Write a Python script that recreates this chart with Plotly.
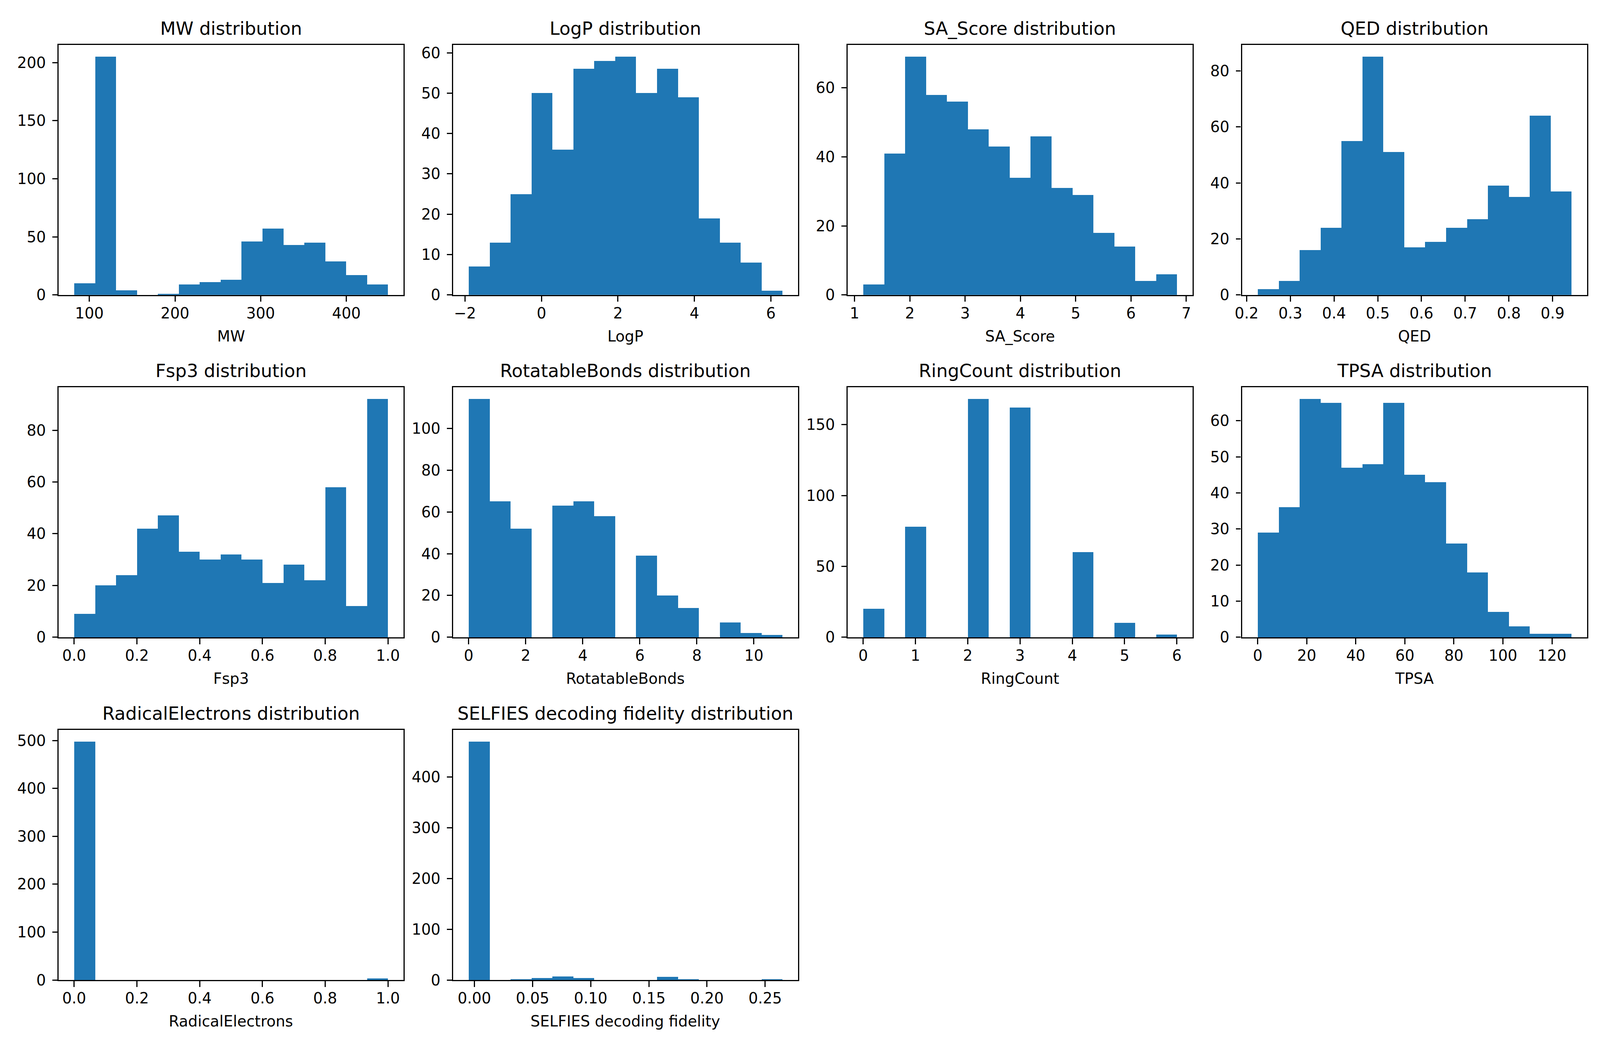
import plotly.graph_objects as go

# ---------------- data ----------------
names = ["MW", "LogP", "SA_Score", "QED", "Fsp3", "RotatableBonds",
         "RingCount", "TPSA", "RadicalElectrons", "SELFIES decoding fidelity"]

# data min / max of each variable (histogram range), 15 bins each
mw_range = [82.3, 448.5]
mw_counts = [10, 205, 4, 0, 1, 9, 11, 13, 46, 57, 43, 45, 29, 17, 9]

logp_range = [-1.903, 6.30]
logp_counts = [7, 13, 25, 50, 36, 56, 58, 59, 50, 56, 49, 19, 13, 8, 1]

sa_range = [1.156, 6.830]
sa_counts = [3, 41, 69, 58, 56, 48, 43, 34, 46, 31, 29, 18, 14, 4, 6]

qed_range = [0.2252, 0.9430]
qed_counts = [2, 5, 16, 24, 55, 85, 51, 17, 19, 24, 27, 39, 35, 64, 37]

fsp3_range = [0.0, 1.0]
fsp3_counts = [9, 20, 24, 42, 47, 33, 30, 32, 30, 21, 28, 22, 58, 12, 92]

rotb_range = [0.0, 11.0]
rotb_counts = [114, 65, 52, 0, 63, 65, 58, 0, 39, 20, 14, 0, 7, 2, 1]

ring_range = [0.0, 6.0]
ring_counts = [20, 0, 78, 0, 0, 168, 0, 162, 0, 0, 60, 0, 10, 0, 2]

tpsa_range = [0.0, 127.9]
tpsa_counts = [29, 36, 66, 65, 47, 48, 65, 45, 43, 26, 18, 7, 3, 1, 1]

rad_range = [0.0, 1.0]
rad_counts = [497, 0, 0, 0, 0, 0, 0, 0, 0, 0, 0, 0, 0, 0, 3]

selfies_range = [-0.0049, 0.2648]
selfies_counts = [469, 0, 1, 4, 7, 4, 0, 0, 0, 6, 1, 0, 0, 0, 1]

# tick values / labels
mw_xticks = [100, 200, 300, 400]
mw_xlabels = ["100", "200", "300", "400"]
mw_yticks = [0, 50, 100, 150, 200]

logp_xticks = [-2, 0, 2, 4, 6]
logp_xlabels = ["\u22122", "0", "2", "4", "6"]
logp_yticks = [0, 10, 20, 30, 40, 50, 60]

sa_xticks = [1, 2, 3, 4, 5, 6, 7]
sa_xlabels = ["1", "2", "3", "4", "5", "6", "7"]
sa_yticks = [0, 20, 40, 60]

qed_xticks = [0.2, 0.3, 0.4, 0.5, 0.6, 0.7, 0.8, 0.9]
qed_xlabels = ["0.2", "0.3", "0.4", "0.5", "0.6", "0.7", "0.8", "0.9"]
qed_yticks = [0, 20, 40, 60, 80]

fsp3_xticks = [0.0, 0.2, 0.4, 0.6, 0.8, 1.0]
fsp3_xlabels = ["0.0", "0.2", "0.4", "0.6", "0.8", "1.0"]
fsp3_yticks = [0, 20, 40, 60, 80]

rotb_xticks = [0, 2, 4, 6, 8, 10]
rotb_xlabels = ["0", "2", "4", "6", "8", "10"]
rotb_yticks = [0, 20, 40, 60, 80, 100]

ring_xticks = [0, 1, 2, 3, 4, 5, 6]
ring_xlabels = ["0", "1", "2", "3", "4", "5", "6"]
ring_yticks = [0, 50, 100, 150]

tpsa_xticks = [0, 20, 40, 60, 80, 100, 120]
tpsa_xlabels = ["0", "20", "40", "60", "80", "100", "120"]
tpsa_yticks = [0, 10, 20, 30, 40, 50, 60]

rad_xticks = [0.0, 0.2, 0.4, 0.6, 0.8, 1.0]
rad_xlabels = ["0.0", "0.2", "0.4", "0.6", "0.8", "1.0"]
rad_yticks = [0, 100, 200, 300, 400, 500]

selfies_xticks = [0.0, 0.05, 0.10, 0.15, 0.20, 0.25]
selfies_xlabels = ["0.00", "0.05", "0.10", "0.15", "0.20", "0.25"]
selfies_yticks = [0, 100, 200, 300, 400]

panels = [
    (mw_range, mw_counts, mw_xticks, mw_xlabels, mw_yticks),
    (logp_range, logp_counts, logp_xticks, logp_xlabels, logp_yticks),
    (sa_range, sa_counts, sa_xticks, sa_xlabels, sa_yticks),
    (qed_range, qed_counts, qed_xticks, qed_xlabels, qed_yticks),
    (fsp3_range, fsp3_counts, fsp3_xticks, fsp3_xlabels, fsp3_yticks),
    (rotb_range, rotb_counts, rotb_xticks, rotb_xlabels, rotb_yticks),
    (ring_range, ring_counts, ring_xticks, ring_xlabels, ring_yticks),
    (tpsa_range, tpsa_counts, tpsa_xticks, tpsa_xlabels, tpsa_yticks),
    (rad_range, rad_counts, rad_xticks, rad_xlabels, rad_yticks),
    (selfies_range, selfies_counts, selfies_xticks, selfies_xlabels, selfies_yticks),
]

# ---------------- layout / style ----------------
W, H = 4800, 2700
BLUE = "#1f77b4"
FONT = "DejaVu Sans"
TICK_FS = 41.7
TITLE_FS = 50
LW = 3.33
TICKLEN = 14.6

col_left = [154, 1343, 2532, 3721]
col_w = 1040
row_top = [114, 998, 1883]
row_h = 645.5

fig = go.Figure()
annotations = []
layout = {}

for i, (rng, counts, xt, xl, yt) in enumerate(panels):
    r, c = divmod(i, 4)
    n = len(counts)
    lo, hi = rng
    w = (hi - lo) / n
    centers = [lo + (k + 0.5) * w for k in range(n)]
    ax = "" if i == 0 else str(i + 1)
    fig.add_trace(go.Bar(
        x=centers, y=counts, width=[w] * n,
        marker=dict(color=BLUE, line=dict(width=0)),
        xaxis="x" + ax, yaxis="y" + ax, showlegend=False,
        hoverinfo="x+y",
    ))
    x0 = col_left[c] / W
    x1 = (col_left[c] + col_w) / W
    y1 = 1 - row_top[r] / H
    y0 = 1 - (row_top[r] + row_h) / H
    span = hi - lo
    common = dict(
        showline=True, linewidth=LW, linecolor="black", mirror=True,
        ticks="outside", ticklen=TICKLEN, tickwidth=LW, tickcolor="black",
        showgrid=False, zeroline=False,
        tickfont=dict(family=FONT, size=TICK_FS, color="black"),
    )
    layout["xaxis" + ax] = dict(
        domain=[x0, x1], anchor="y" + ax,
        range=[lo - 0.05 * span, hi + 0.05 * span],
        tickmode="array", tickvals=xt, ticktext=xl,
        ticklabelstandoff=-4,
        **common,
    )
    layout["yaxis" + ax] = dict(
        domain=[y0, y1], anchor="x" + ax,
        range=[0, max(counts) * 1.05],
        tickmode="array", tickvals=yt, ticktext=[str(v) for v in yt],
        ticklabelstandoff=10,
        **common,
    )
    xc = (x0 + x1) / 2
    annotations.append(dict(
        text=names[i] + " distribution", x=xc, y=y1, xref="paper", yref="paper",
        xanchor="center", yanchor="bottom", yshift=13, showarrow=False,
        font=dict(family=FONT, size=TITLE_FS, color="black"),
    ))
    annotations.append(dict(
        text=names[i], x=xc, y=y0, xref="paper", yref="paper",
        xanchor="center", yanchor="top", yshift=-81, showarrow=False,
        font=dict(family=FONT, size=TICK_FS, color="black"),
    ))

fig.update_layout(
    width=W, height=H, autosize=False,
    margin=dict(l=0, r=0, t=0, b=0, pad=0),
    paper_bgcolor="white", plot_bgcolor="white",
    font=dict(family=FONT, size=TICK_FS, color="black"),
    annotations=annotations, bargap=0, showlegend=False,
    **layout,
)

# Fit the 4800x2700 design to the actual browser viewport
fit_js = """
(function(){
  document.documentElement.style.margin = '0';
  document.documentElement.style.overflow = 'hidden';
  document.body.style.margin = '0';
  document.body.style.overflow = 'hidden';
  var gd = document.getElementById('{plot_id}');
  var vw = window.innerWidth, vh = window.innerHeight;
  var kx = vw / 4800;
  if (!isFinite(kx) || kx <= 0) { return; }
  var ky = (isFinite(vh) && vh > 100) ? vh / 2700 : kx;
  if (Math.abs(kx - 1) < 0.002 && Math.abs(ky - 1) < 0.002) { return; }
  var kf = Math.sqrt(kx * ky);
  var newW = 4800 * kx, newH = 2700 * ky;
  gd.style.width = newW + 'px';
  gd.style.height = newH + 'px';
  if (gd.parentNode && gd.parentNode.style) {
    gd.parentNode.style.width = newW + 'px';
    gd.parentNode.style.height = newH + 'px';
    gd.parentNode.style.overflow = 'hidden';
  }
  var L = gd.layout, upd = {width: newW, height: newH};
  Object.keys(L).forEach(function(key){
    if (/^[xy]axis[0-9]*$/.test(key)) {
      var a = L[key];
      var kd = (key.charAt(0) === 'x') ? ky : kx;
      upd[key + '.tickfont.size'] = a.tickfont.size * kf;
      upd[key + '.linewidth'] = a.linewidth * kf;
      upd[key + '.tickwidth'] = a.tickwidth * kf;
      upd[key + '.ticklen'] = a.ticklen * kd;
      upd[key + '.ticklabelstandoff'] = Math.round((a.ticklabelstandoff || 0) * kd);
    }
  });
  (L.annotations || []).forEach(function(an, i){
    upd['annotations[' + i + '].font.size'] = an.font.size * kf;
    upd['annotations[' + i + '].yshift'] = (an.yshift || 0) * ky;
  });
  upd['font.size'] = L.font.size * kf;
  Plotly.relayout(gd, upd);
})();
"""

fig.write_html("out.html", post_script=fit_js,
               config={"displayModeBar": False, "responsive": False})
